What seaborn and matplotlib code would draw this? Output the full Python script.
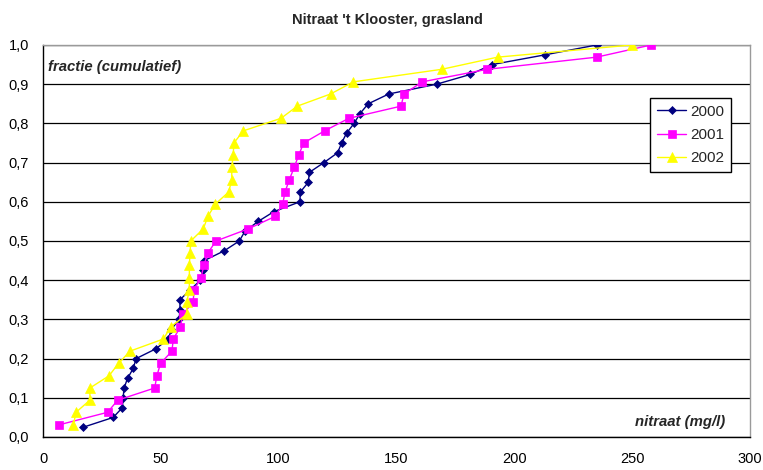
import matplotlib
matplotlib.use("Agg")
import matplotlib.pyplot as plt
import seaborn as sns
import pandas as pd
from matplotlib.ticker import FuncFormatter, MultipleLocator

# Nitrate concentrations (mg/l), sorted, with their cumulative fraction
nitraat_2000 = [17.1, 29.8, 33.7, 34.0, 34.4, 35.9, 38.3, 39.5, 47.9, 53.2,
                54.5, 57.8, 58.1, 58.1, 62.4, 66.8, 67.9, 68.4, 76.9, 83.3,
                85.7, 91.3, 98.0, 109.0, 109.2, 112.6, 113.0, 119.2, 125.0, 126.7,
                128.8, 132.0, 134.5, 138.0, 146.7, 167.0, 181.4, 190.5, 213.1, 234.9]
fractie_2000 = [0.025, 0.05, 0.075, 0.1, 0.125, 0.15, 0.175, 0.2, 0.225, 0.25,
                0.275, 0.3, 0.325, 0.35, 0.375, 0.4, 0.425, 0.45, 0.475, 0.5,
                0.525, 0.55, 0.575, 0.6, 0.625, 0.65, 0.675, 0.7, 0.725, 0.75,
                0.775, 0.8, 0.825, 0.85, 0.875, 0.9, 0.925, 0.95, 0.975, 1.0]

nitraat_2001 = [6.8, 27.4, 31.7, 47.4, 48.3, 49.9, 54.7, 55.3, 58.3, 59.3,
                63.7, 64.1, 67.0, 68.3, 69.9, 73.4, 87.1, 98.6, 101.7, 102.7,
                104.5, 106.6, 108.5, 110.6, 119.5, 129.8, 151.9, 153.2, 160.9, 188.5,
                234.9, 258.0]
fractie_2001 = [0.031, 0.063, 0.094, 0.125, 0.156, 0.188, 0.219, 0.25, 0.281, 0.313,
                0.344, 0.375, 0.406, 0.438, 0.469, 0.5, 0.531, 0.563, 0.594, 0.625,
                0.656, 0.688, 0.719, 0.75, 0.781, 0.813, 0.844, 0.875, 0.906, 0.938,
                0.969, 1.0]

nitraat_2002 = [12.9, 14.0, 19.9, 19.9, 28.0, 32.1, 36.9, 51.1, 54.2, 61.0,
                61.0, 62.1, 62.1, 62.1, 62.4, 62.7, 68.0, 70.0, 73.1, 78.8,
                80.1, 80.1, 80.7, 81.0, 85.0, 101.0, 107.9, 122.0, 131.7, 169.2,
                192.9, 249.8]
fractie_2002 = [0.031, 0.063, 0.094, 0.125, 0.156, 0.188, 0.219, 0.25, 0.281, 0.313,
                0.344, 0.375, 0.406, 0.438, 0.469, 0.5, 0.531, 0.563, 0.594, 0.625,
                0.656, 0.688, 0.719, 0.75, 0.781, 0.813, 0.844, 0.875, 0.906, 0.938,
                0.969, 1.0]

jaren = ["2000", "2001", "2002"]
kleuren = {"2000": "#000080", "2001": "#FF00FF", "2002": "#FFFF00"}
markers = {"2000": "D", "2001": "s", "2002": "^"}
marker_sizes = {"2000": 4.5, "2001": 6.0, "2002": 6.5}

df = pd.concat([
    pd.DataFrame({"nitraat": nitraat_2000, "fractie": fractie_2000, "jaar": "2000"}),
    pd.DataFrame({"nitraat": nitraat_2001, "fractie": fractie_2001, "jaar": "2001"}),
    pd.DataFrame({"nitraat": nitraat_2002, "fractie": fractie_2002, "jaar": "2002"}),
], ignore_index=True)

sns.set_style("white")
plt.rcParams["font.family"] = ["Liberation Sans", "DejaVu Sans"]

fig = plt.figure(figsize=(7.63, 4.70), dpi=100)
ax = fig.add_axes([43 / 763, 33 / 470, 707 / 763, 392 / 470])

handles = []
for jaar in jaren:
    sub = df[df["jaar"] == jaar]
    sns.lineplot(data=sub, x="nitraat", y="fractie", ax=ax, sort=False,
                 estimator=None, color=kleuren[jaar], linewidth=1.0,
                 marker=markers[jaar], markersize=marker_sizes[jaar],
                 markeredgecolor=kleuren[jaar], markeredgewidth=0.5,
                 label=jaar, zorder=3)
    handles.append(ax.lines[-1])

ax.set_xlim(0, 300)
ax.set_ylim(0, 1.0)
ax.xaxis.set_major_locator(MultipleLocator(50))
ax.yaxis.set_major_locator(MultipleLocator(0.1))
ax.yaxis.set_major_formatter(FuncFormatter(lambda v, _: f"{v:.1f}".replace(".", ",")))
ax.set_xlabel("")
ax.set_ylabel("")

# Horizontal gridlines
ax.grid(axis="y", color="black", linewidth=0.9)
ax.grid(axis="x", visible=False)
ax.set_axisbelow(True)

for side in ["left", "bottom"]:
    ax.spines[side].set_color("black")
    ax.spines[side].set_linewidth(1.0)
for side in ["top", "right"]:
    ax.spines[side].set_color("#9a9a9a")
    ax.spines[side].set_linewidth(1.0)

ax.tick_params(axis="both", direction="out", length=5, width=1.0, color="black",
               labelsize=10.5, labelcolor="black")
ax.tick_params(axis="x", pad=6)
ax.tick_params(axis="y", pad=5)

ax.set_title("Nitraat 't Klooster, grasland", fontsize=10.5, fontweight="bold",
             pad=15, x=0.4866)

ax.text(2.2, 0.945, "fractie (cumulatief)", fontsize=10.7, fontweight="bold",
        fontstyle="italic", ha="left", va="center")
ax.text(289.5, 0.038, "nitraat (mg/l)", fontsize=10.7, fontweight="bold",
        fontstyle="italic", ha="right", va="center")

leg = ax.legend(handles=handles, labels=jaren, loc="upper left",
                bbox_to_anchor=(0.859, 0.865), frameon=True, fancybox=False,
                edgecolor="black", framealpha=1, fontsize=11, handlelength=1.9,
                handletextpad=0.25, borderpad=0.45, labelspacing=0.6,
                borderaxespad=0)
leg.get_frame().set_linewidth(1.0)

fig.savefig("out.png", dpi=100, facecolor="white")
